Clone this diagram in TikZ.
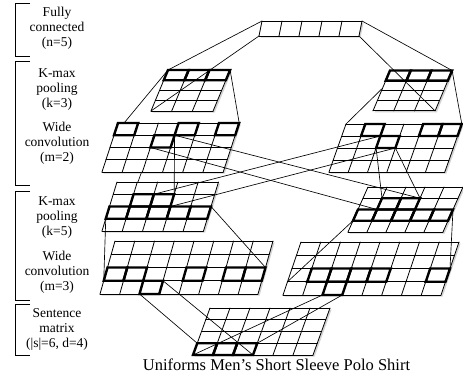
\documentclass[tikz,border=0pt]{standalone}
\usepackage{fontspec}
\setmainfont{Liberation Serif}
\usetikzlibrary{calc,shadows}
\tikzset{
  gridbox/.style={fill=white, drop shadow={shadow xshift=1.6pt, shadow yshift=-1.6pt, opacity=0.35}},
  gridline/.style={line width=0.8pt, line cap=round},
  thickline/.style={line width=2.4pt, line join=miter},
  conn/.style={line width=0.65pt},
  lab/.style={align=center, font=\fontsize{13.5}{15}\selectfont, inner sep=0pt},
  brk/.style={line width=0.8pt},
}
% name, tx, ty (from top), cols, rows, cell width, row height, slant per row
\newcommand{\mkgrid}[8]{%
  \foreach \i in {0,...,#4}{%
    \foreach \j in {0,...,#5}{%
      \coordinate (#1-\i-\j) at ({#2+\i*#6-\j*#8},{374-#3-\j*#7});
    }%
  }%
  \path[gridbox] (#1-0-0) -- (#1-#4-0) -- (#1-#4-#5) -- (#1-0-#5) -- cycle;
  \foreach \i in {0,...,#4}{\draw[gridline] (#1-\i-0) -- (#1-\i-#5);}%
  \foreach \j in {0,...,#5}{\draw[gridline] (#1-0-\j) -- (#1-#4-\j);}%
}
\newcommand{\tcell}[3]{%
  \pgfmathtruncatemacro{\ia}{#2+1}\pgfmathtruncatemacro{\ja}{#3+1}%
  \draw[thickline] (#1-#2-#3) -- (#1-\ia-#3) -- (#1-\ia-\ja) -- (#1-#2-\ja) -- cycle;}
\begin{document}
\begin{tikzpicture}[x=1pt,y=1pt]
\useasboundingbox (0,0) rectangle (463,374);
% grids
\mkgrid{FC}{262}{21}{5}{1}{20}{15}{3}
\mkgrid{LKa}{168}{70}{3}{4}{20.7}{10.25}{4.25}
\mkgrid{RKa}{390}{70.5}{3}{4}{20.7}{10.1}{4.25}
\mkgrid{LWa}{118}{123}{6}{4}{20.2}{12.25}{4}
\mkgrid{RWa}{346}{124}{6}{4}{19.3}{12}{4.25}
\mkgrid{LKb}{117}{182}{5}{4}{20.3}{12.25}{3.75}
\mkgrid{RKb}{368}{187}{5}{4}{19}{11.25}{5}
\mkgrid{LWb}{115}{241}{8}{4}{19.75}{13.25}{3.75}
\mkgrid{RWb}{301}{242}{8}{4}{19.75}{13.25}{4.5}
\mkgrid{SM}{210}{308}{6}{4}{20}{11.75}{4.25}
% thick cells
\foreach \a/\b in {0/0,1/0,2/0}{\tcell{LKa}{\a}{\b}}
\foreach \a/\b in {0/0,1/0,2/0}{\tcell{RKa}{\a}{\b}}
\foreach \a/\b in {0/0,3/0,5/0,2/1}{\tcell{LWa}{\a}{\b}}
\foreach \a/\b in {1/0,4/0,5/0,2/1}{\tcell{RWa}{\a}{\b}}
\foreach \a/\b in {1/1,2/1,0/2,1/2,2/2,3/2,4/2}{\tcell{LKb}{\a}{\b}}
\foreach \a/\b in {1/1,2/1,0/2,1/2,2/2,3/2,4/2}{\tcell{RKb}{\a}{\b}}
\foreach \a/\b in {0/2,1/2,4/2,6/2,7/2,2/3}{\tcell{LWb}{\a}{\b}}
\foreach \a/\b in {1/2,2/2,3/2,4/2,7/2,2/3}{\tcell{RWb}{\a}{\b}}
\foreach \a/\b in {0/3,1/3,2/3}{\tcell{SM}{\a}{\b}}
% helper coordinates
\coordinate (l5e) at ($(LWa-0-0)!0.3!(LWa-1-0)$);
\coordinate (l7s) at ($(RKa-0-1)!0.75!(RKa-0-2)$);
\coordinate (v1s) at ($(LWa-2-2)!0.524!(LKb-1-1)$);
\coordinate (v1e) at ($(LWa-2-2)!0.738!(LKb-1-1)$);
% connectors
\draw[conn] (FC-0-0) -- (LKa-0-0);
\draw[conn] (FC-0-1) -- (LKa-0-4);
\draw[conn] (FC-5-0) -- (RKa-3-0);
\draw[conn] (FC-5-1) -- (RKa-3-4);
\draw[conn] (LKa-0-0) -- (l5e);
\draw[conn] (LKa-3-0) -- (LWa-6-0);
\draw[conn] (l7s) -- (RWa-0-0);
\draw[conn] (RKa-3-0) -- (RWa-6-0);
\draw[conn] (LWa-3-1) -- (LKb-3-1);
\draw[conn] (v1s) -- (v1e);
\draw[conn] (LWa-3-1) -- (RKb-3-1);
\draw[conn] (LWa-2-2) -- (RKb-1-2);
\draw[conn] (RWa-2-1) -- (LKb-2-1);
\draw[conn] (RWa-3-2) -- (LKb-3-2);
\draw[conn] (RWa-2-2) -- (RKb-1-1);
\draw[conn] (RWa-3-2) -- (RKb-3-1);
\draw[conn] (LKb-0-3) -- (LWb-0-3);
\draw[conn] (LKb-5-2) -- (LWb-8-2);
\draw[conn] (RKb-0-3) -- (RWb-0-3);
\draw[conn] (RKb-5-2) -- (RWb-8-2);
\draw[conn] (LWb-2-4) -- (SM-0-3);
\draw[conn] (LWb-3-3) -- (SM-3-4);
\draw[conn] (RWb-2-4) -- (SM-0-4);
\draw[conn] (RWb-3-4) -- (SM-3-3);
% brackets
\draw[brk] (30,371) -- (15,371) -- (15,318) -- (30,318);
\draw[brk] (30,313) -- (15,313) -- (15,189) -- (30,189);
\draw[brk] (30,183) -- (15,183) -- (15,74) -- (30,74);
\draw[brk] (30,70) -- (15,70) -- (15,19) -- (30,19);
% labels
\node[lab] (t1) at (57,346) {Fully\\connected\\(n=5)};
\node[lab] (t2) at (57,284.5) {K-max\\pooling\\(k=3)};
\node[lab] (t3) at (57,231) {Wide\\convolution\\(m=2)};
\node[lab] (t4) at (57,156) {K-max\\pooling\\(k=5)};
\node[lab] (t5) at (57,101.5) {Wide\\convolution\\(m=3)};
\node[lab] (t6) at (57,45) {Sentence\\matrix\\(|s|=6, d=4)};
\node[inner sep=0pt, font=\fontsize{16.5}{18}\selectfont] (caption) at (276.5,9) {Uniforms Men's Short Sleeve Polo Shirt};
\end{tikzpicture}
\end{document}
